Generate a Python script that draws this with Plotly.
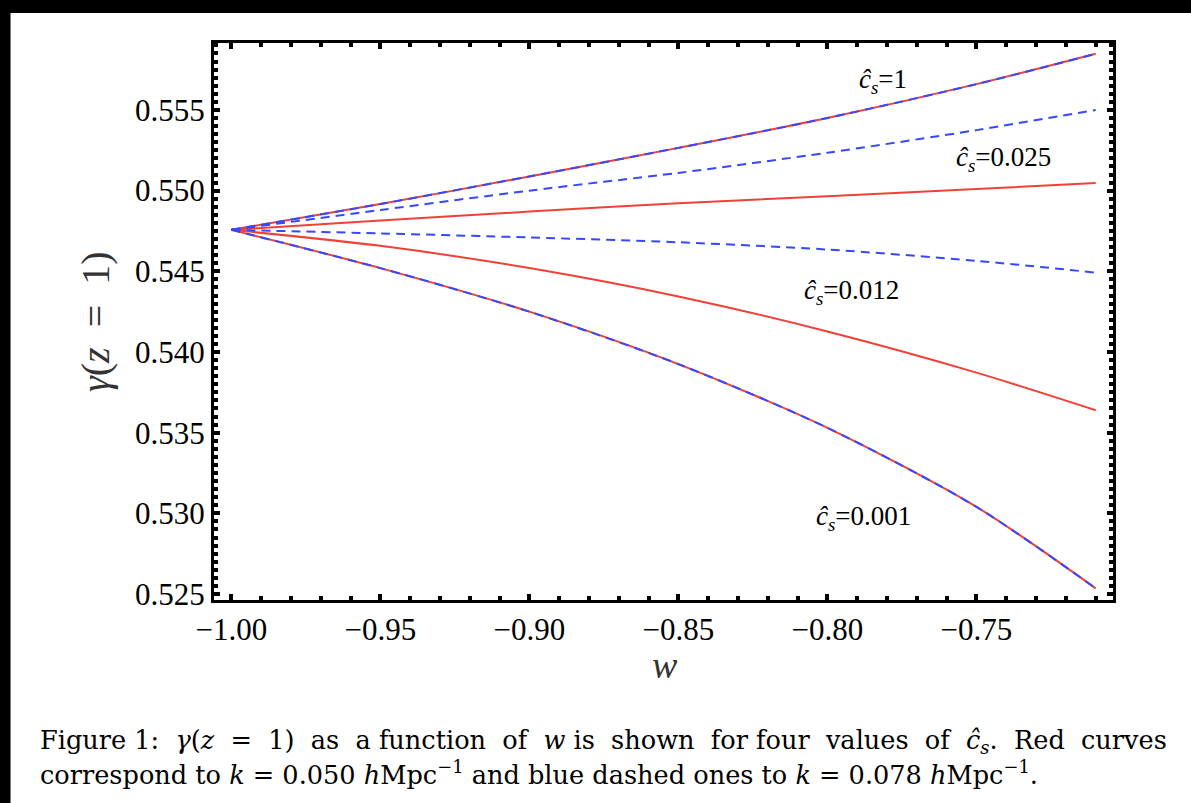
import plotly.graph_objects as go

# ---- data ----
w = [-1.00, -0.95, -0.90, -0.85, -0.80, -0.75, -0.71]

red_cs1 = [0.54757, 0.54917, 0.55088, 0.55265, 0.55450, 0.55660, 0.55848]
red_cs0025 = [0.54757, 0.54815, 0.54870, 0.54922, 0.54965, 0.55010, 0.55047]
red_cs0012 = [0.54757, 0.54658, 0.54520, 0.54344, 0.54127, 0.53872, 0.53639]
red_cs0001 = [0.54757, 0.54520, 0.54250, 0.53925, 0.53530, 0.53040, 0.52535]

blue_cs1 = [0.54757, 0.54917, 0.55088, 0.55265, 0.55450, 0.55660, 0.55848]
blue_cs0025 = [0.54757, 0.54880, 0.55000, 0.55110, 0.55235, 0.55375, 0.55500]
blue_cs0012 = [0.54757, 0.54735, 0.54710, 0.54680, 0.54635, 0.54565, 0.54492]
blue_cs0001 = [0.54757, 0.54520, 0.54250, 0.53925, 0.53530, 0.53040, 0.52535]

curve_labels = ["1", "0.025", "0.012", "0.001"]
label_w = [-0.7812, -0.7409, -0.7919, -0.7879]
label_y = [0.55680, 0.55196, 0.54370, 0.52972]

RED = "#ef4136"
BLUE = "#3548ff"
SERIF = "Liberation Serif, DejaVu Serif, serif"
CAP = "DejaVu Serif, Liberation Serif, serif"

fig = go.Figure()
for ys in [red_cs1, red_cs0025, red_cs0012, red_cs0001]:
    fig.add_trace(go.Scatter(x=w, y=ys, mode="lines",
                             line=dict(color=RED, width=2, shape="spline", smoothing=0.8),
                             showlegend=False, hoverinfo="skip"))
for ys in [blue_cs1, blue_cs0025, blue_cs0012, blue_cs0001]:
    fig.add_trace(go.Scatter(x=w, y=ys, mode="lines",
                             line=dict(color=BLUE, width=2, shape="spline", smoothing=0.8,
                                       dash="9px,6px"),
                             showlegend=False, hoverinfo="skip"))

for lab, lx, ly in zip(curve_labels, label_w, label_y):
    fig.add_annotation(x=lx, y=ly, xref="x", yref="y", showarrow=False,
                       xanchor="center", yanchor="middle",
                       text="<i>ĉ<sub>s</sub></i>=" + lab,
                       font=dict(family=SERIF, size=27, color="black"))

L, R, T, B = 214, 78, 43, 203
PW, PH = 1191 - L - R, 803 - T - B

def px(x):
    return (x - L) / PW

def py(y):
    return 1 + (T - y) / PH

# black bands on top and left of the page
fig.add_shape(type="rect", xref="paper", yref="paper", x0=px(0), x1=px(1191),
              y0=py(13), y1=py(0), fillcolor="black", line_width=0, layer="above")
fig.add_shape(type="rect", xref="paper", yref="paper", x0=px(0), x1=px(10.5),
              y0=py(803), y1=py(0), fillcolor="black", line_width=0, layer="above")

# caption
fig.add_annotation(xref="paper", yref="paper", x=px(38), y=py(741), xanchor="left", yanchor="middle",
                   showarrow=False, align="left",
                   text="Figure 1:  <i>γ</i>(<i>z</i>  =  1)  as  a function  of  <i>w</i> is  shown  for four  values  of  <i>ĉ<sub>s</sub></i>.  Red  curves",
                   font=dict(family=CAP, size=25.6, color="black"))
fig.add_annotation(xref="paper", yref="paper", x=px(38), y=py(773), xanchor="left", yanchor="middle",
                   showarrow=False, align="left",
                   text="correspond to <i>k</i> = 0.050 <i>h</i>Mpc<sup>−1</sup> and blue dashed ones to <i>k</i> = 0.078 <i>h</i>Mpc<sup>−1</sup>.",
                   font=dict(family=CAP, size=25.6, color="black"))

# axis titles
fig.add_annotation(xref="paper", yref="paper", x=px(665), y=py(665), showarrow=False,
                   xanchor="center", yanchor="middle",
                   text="<i>w</i>", font=dict(family=SERIF, size=38, color="#333"))
fig.add_annotation(xref="paper", yref="paper", x=px(95), y=py(322), showarrow=False, textangle=-90,
                   xanchor="center", yanchor="middle",
                   text="<i>γ</i>(<i>z</i>  =  1)", font=dict(family=SERIF, size=40, color="#333"))

axis_common = dict(showgrid=False, zeroline=False, showline=True, linecolor="black", linewidth=3,
                   mirror="ticks", ticks="inside", ticklen=6, tickwidth=4, tickcolor="black",
                   tickfont=dict(family=SERIF, size=31, color="black"))

fig.update_xaxes(range=[-1.0058, -0.7042], tickmode="linear", tick0=-1.0, dtick=0.05,
                 tickformat=".2f",
                 minor=dict(ticks="inside", dtick=0.01, tick0=-1.0, ticklen=4, tickwidth=4,
                            tickcolor="black"),
                 **axis_common)
fig.update_yaxes(range=[0.52463, 0.55915], tickmode="linear", tick0=0.525, dtick=0.005,
                 tickformat=".3f",
                 minor=dict(ticks="inside", dtick=0.0005, tick0=0.525, ticklen=4, tickwidth=4,
                            tickcolor="black"),
                 **axis_common)

fig.update_layout(width=1191, height=803, margin=dict(l=L, r=R, t=T, b=B),
                  paper_bgcolor="white", plot_bgcolor="white")

fig.write_html("out.html", config={"displayModeBar": False},
               post_script="document.body.style.margin='0';document.body.style.overflow='hidden';")
